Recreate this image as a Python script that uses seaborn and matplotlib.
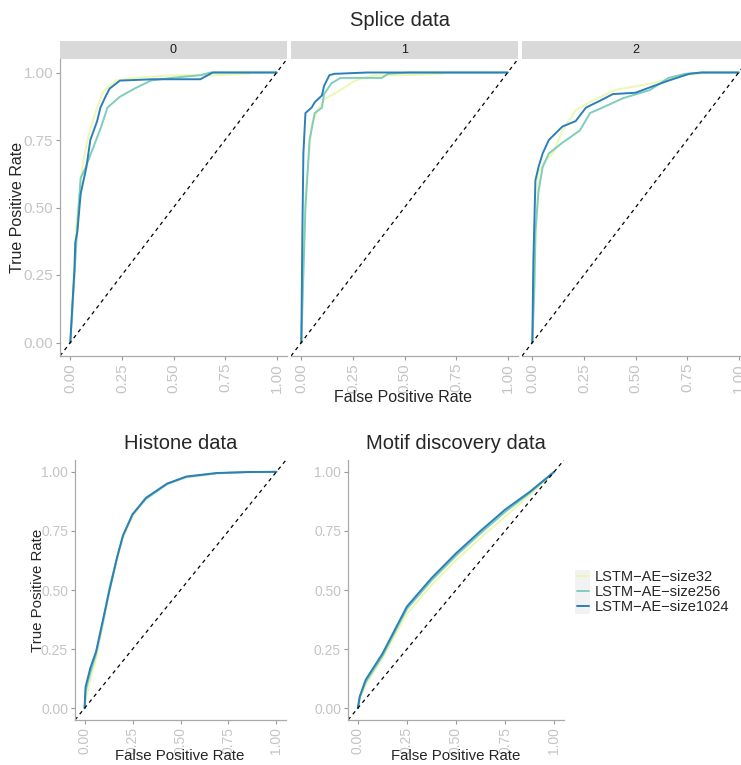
import numpy as np
import pandas as pd
import seaborn as sns
import matplotlib
matplotlib.use('Agg')
import matplotlib.pyplot as plt
from matplotlib.patches import Rectangle

models = ['LSTM\u2212AE\u2212size32', 'LSTM\u2212AE\u2212size256', 'LSTM\u2212AE\u2212size1024']
colors = ['#edf8b1', '#7fcdbb', '#2c7fb8']

# Splice data, fold 0
s0_fpr_32 = [0.0, 0.01, 0.02, 0.03, 0.05, 0.06, 0.08, 0.10, 0.13, 0.16, 0.19, 0.22, 0.30, 0.50, 0.70, 0.87]
s0_tpr_32 = [0.0, 0.15, 0.30, 0.45, 0.58, 0.66, 0.74, 0.80, 0.87, 0.93, 0.95, 0.97, 0.98, 0.99, 0.99, 0.995]
s0_fpr_256 = [0.0, 0.01, 0.02, 0.03, 0.04, 0.05, 0.07, 0.10, 0.13, 0.15, 0.18, 0.24, 0.31, 0.39, 0.49, 0.63, 0.68, 1.0]
s0_tpr_256 = [0.0, 0.12, 0.25, 0.38, 0.50, 0.61, 0.64, 0.70, 0.76, 0.80, 0.87, 0.91, 0.94, 0.97, 0.98, 0.99, 1.0, 1.0]
s0_fpr_1024 = [0.0, 0.01, 0.02, 0.024, 0.034, 0.05, 0.078, 0.097, 0.13, 0.146, 0.17, 0.19, 0.24, 0.40, 0.63, 0.69, 1.0]
s0_tpr_1024 = [0.0, 0.14, 0.27, 0.37, 0.41, 0.55, 0.65, 0.75, 0.82, 0.87, 0.91, 0.94, 0.97, 0.975, 0.975, 1.0, 1.0]

# Splice data, fold 1
s1_fpr_32 = [0.0, 0.01, 0.02, 0.04, 0.05, 0.08, 0.11, 0.18, 0.26, 0.35, 0.50, 0.69]
s1_tpr_32 = [0.0, 0.30, 0.55, 0.72, 0.81, 0.86, 0.90, 0.93, 0.97, 0.99, 0.99, 0.995]
s1_fpr_256 = [0.0, 0.01, 0.02, 0.04, 0.065, 0.10, 0.11, 0.146, 0.19, 0.30, 0.39, 0.42, 0.52, 1.0]
s1_tpr_256 = [0.0, 0.25, 0.50, 0.75, 0.85, 0.87, 0.92, 0.96, 0.98, 0.98, 0.98, 0.995, 1.0, 1.0]
s1_fpr_1024 = [0.0, 0.005, 0.01, 0.02, 0.05, 0.065, 0.10, 0.11, 0.136, 0.16, 0.32, 1.0]
s1_tpr_1024 = [0.0, 0.40, 0.70, 0.85, 0.87, 0.89, 0.915, 0.95, 0.99, 0.995, 1.0, 1.0]

# Splice data, fold 2
s2_fpr_32 = [0.0, 0.01, 0.02, 0.03, 0.06, 0.10, 0.146, 0.21, 0.29, 0.40, 0.58, 0.73, 0.90, 1.0]
s2_tpr_32 = [0.0, 0.25, 0.45, 0.63, 0.67, 0.70, 0.785, 0.86, 0.895, 0.935, 0.96, 0.99, 1.0, 1.0]
s2_fpr_256 = [0.0, 0.01, 0.015, 0.03, 0.05, 0.08, 0.146, 0.23, 0.28, 0.34, 0.44, 0.57, 0.66, 0.74, 0.82, 1.0]
s2_tpr_256 = [0.0, 0.20, 0.41, 0.56, 0.65, 0.70, 0.74, 0.785, 0.85, 0.87, 0.905, 0.935, 0.98, 0.995, 1.0, 1.0]
s2_fpr_1024 = [0.0, 0.005, 0.015, 0.03, 0.05, 0.08, 0.146, 0.21, 0.26, 0.34, 0.39, 0.50, 0.57, 0.66, 0.76, 0.82, 1.0]
s2_tpr_1024 = [0.0, 0.30, 0.60, 0.65, 0.70, 0.75, 0.80, 0.82, 0.87, 0.90, 0.92, 0.925, 0.945, 0.97, 0.995, 1.0, 1.0]

# Histone data
h_fpr = [0.0, 0.005, 0.03, 0.06, 0.10, 0.13, 0.17, 0.20, 0.25, 0.32, 0.43, 0.53, 0.69, 0.85, 1.0]
h_tpr_32 = [0.0, 0.03, 0.12, 0.21, 0.37, 0.49, 0.63, 0.72, 0.81, 0.89, 0.95, 0.975, 0.993, 0.999, 1.0]
h_tpr_256 = [0.0, 0.07, 0.15, 0.23, 0.38, 0.51, 0.64, 0.73, 0.82, 0.885, 0.948, 0.978, 0.994, 0.999, 1.0]
h_tpr_1024 = [0.0, 0.09, 0.17, 0.24, 0.39, 0.50, 0.64, 0.73, 0.82, 0.89, 0.95, 0.98, 0.995, 0.999, 1.0]

# Motif discovery data
m_fpr = [0.0, 0.01, 0.04, 0.125, 0.25, 0.375, 0.5, 0.625, 0.75, 0.875, 1.0]
m_tpr_32 = [0.0, 0.04, 0.10, 0.21, 0.40, 0.52, 0.625, 0.72, 0.81, 0.90, 1.0]
m_tpr_256 = [0.0, 0.045, 0.11, 0.22, 0.42, 0.54, 0.645, 0.74, 0.83, 0.91, 1.0]
m_tpr_1024 = [0.0, 0.05, 0.12, 0.23, 0.43, 0.55, 0.655, 0.75, 0.84, 0.915, 1.0]


def frame(fprs, tprs):
    rows = []
    for m, f, t in zip(models, fprs, tprs):
        rows.append(pd.DataFrame({'fpr': f, 'tpr': t, 'model': m}))
    return pd.concat(rows, ignore_index=True)


splice = [
    frame([s0_fpr_32, s0_fpr_256, s0_fpr_1024], [s0_tpr_32, s0_tpr_256, s0_tpr_1024]),
    frame([s1_fpr_32, s1_fpr_256, s1_fpr_1024], [s1_tpr_32, s1_tpr_256, s1_tpr_1024]),
    frame([s2_fpr_32, s2_fpr_256, s2_fpr_1024], [s2_tpr_32, s2_tpr_256, s2_tpr_1024]),
]
histone = frame([h_fpr] * 3, [h_tpr_32, h_tpr_256, h_tpr_1024])
motif = frame([m_fpr] * 3, [m_tpr_32, m_tpr_256, m_tpr_1024])

sns.set_style('white')
plt.rcParams['font.family'] = ['Liberation Sans', 'DejaVu Sans']

W, H = 741, 765
fig = plt.figure(figsize=(W / 100, H / 100), dpi=100)
palette = dict(zip(models, colors))
ticks = [0.0, 0.25, 0.5, 0.75, 1.0]
ticklabels = ['0.00', '0.25', '0.50', '0.75', '1.00']
tick_col = '#c4c4c4'


def px_axes(l, t, r, b):
    return fig.add_axes([l / W, 1 - b / H, (r - l) / W, (b - t) / H])


def style(ax, show_y=True, fs=11):
    sns.despine(ax=ax, left=not show_y)
    ax.set_xlim(-0.05, 1.05)
    ax.set_ylim(-0.05, 1.05)
    ax.plot([-0.05, 1.05], [-0.05, 1.05], ls=(0, (3, 3)), color='black', lw=0.9)
    ax.set_xticks(ticks)
    ax.set_xticklabels(ticklabels, rotation=90, color=tick_col, fontsize=fs)
    ax.tick_params(axis='x', length=3, color='#999999', width=0.8, pad=2, bottom=True)
    for s in ['bottom', 'left']:
        ax.spines[s].set_color('#aaaaaa')
        ax.spines[s].set_linewidth(0.9)
    if show_y:
        ax.set_yticks(ticks)
        ax.set_yticklabels(ticklabels, color=tick_col, fontsize=fs)
        ax.tick_params(axis='y', length=3, color='#999999', width=0.8, pad=2, left=True)
    else:
        ax.set_yticks([])
    ax.set_xlabel('')
    ax.set_ylabel('')
    if ax.get_legend() is not None:
        ax.get_legend().remove()


lefts = [60, 291, 522]
for i, d in enumerate(splice):
    ax = px_axes(lefts[i], 59, lefts[i] + 227, 356)
    sns.lineplot(data=d, x='fpr', y='tpr', hue='model', palette=palette,
                 sort=False, estimator=None, errorbar=None, lw=1.4, ax=ax)
    style(ax, show_y=(i == 0))
    ax.add_patch(Rectangle((0, 1.0), 1, 18 / 297, transform=ax.transAxes,
                           facecolor='#d9d9d9', edgecolor='none', clip_on=False))
    ax.text(0.5, 1.0 + 9 / 297, str(i), transform=ax.transAxes, ha='center',
            va='center', fontsize=9, color='#1a1a1a')

fig.text(400 / W, 1 - 20 / H, 'Splice data', ha='center', va='center', fontsize=14.5)
fig.text(403 / W, 1 - 397 / H, 'False Positive Rate', ha='center', va='center', fontsize=11.5)
fig.text(18 / W, 1 - 207 / H, 'True Positive Rate', ha='center', va='center',
         rotation=90, fontsize=11.5)

ax_h = px_axes(75, 460, 286, 720)
sns.lineplot(data=histone, x='fpr', y='tpr', hue='model', palette=palette,
             sort=False, estimator=None, errorbar=None, lw=1.4, ax=ax_h)
style(ax_h, fs=10)
ax_h.set_title('Histone data', fontsize=14.5, pad=8)
fig.text(180 / W, 1 - 756 / H, 'False Positive Rate', ha='center', va='center', fontsize=10.8)
fig.text(38 / W, 1 - 590 / H, 'True Positive Rate', ha='center', va='center',
         rotation=90, fontsize=10.8)

ax_m = px_axes(348, 460, 564, 720)
sns.lineplot(data=motif, x='fpr', y='tpr', hue='model', palette=palette,
             sort=False, estimator=None, errorbar=None, lw=1.4, ax=ax_m)
handles, labels = ax_m.get_legend_handles_labels()
style(ax_m, fs=10)
ax_m.set_title('Motif discovery data', fontsize=14.5, pad=8)
fig.text(456 / W, 1 - 756 / H, 'False Positive Rate', ha='center', va='center', fontsize=10.8)

# legend with ggplot-like grey key background
fig.patches.append(Rectangle((575 / W, 1 - 614 / H), 15 / W, 44 / H, transform=fig.transFigure,
                             facecolor='#f2f2f2', edgecolor='none'))
leg = fig.legend(handles, labels, loc='center left', bbox_to_anchor=(571 / W, 1 - 592 / H),
                 frameon=False, fontsize=10.5, handlelength=0.8, handletextpad=0.4,
                 labelspacing=0.05, borderaxespad=0)
for h in leg.get_lines():
    h.set_linewidth(1.4)

fig.savefig('out.png', dpi=100)
